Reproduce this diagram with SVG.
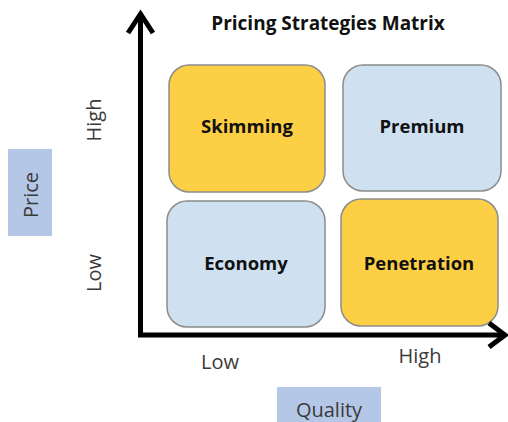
<svg xmlns="http://www.w3.org/2000/svg" width="508" height="422" viewBox="0 0 508 422">
  <style>
    .quad { stroke: #8c8c8c; stroke-width: 1.5; }
    .yellow { fill: #fdcf45; }
    .blue { fill: #cfe0f1; }
    .qlabel { font-family: "Open Sans", "Liberation Sans", sans-serif; font-weight: bold; font-size: 18.5px; fill: #111111; text-anchor: middle; }
    .axislabel { font-family: "Open Sans", "Liberation Sans", sans-serif; font-size: 20px; fill: #3a3a3a; text-anchor: middle; }
    .title { font-family: "Open Sans", "Liberation Sans", sans-serif; font-weight: bold; font-size: 19px; fill: #111111; text-anchor: middle; }
    .tag { fill: #b4c7e7; }
    .axis { stroke: #000000; stroke-width: 5; fill: none; }
  </style>

  <rect width="508" height="422" fill="#ffffff"/>

  <text class="title" x="328" y="30">Pricing Strategies Matrix</text>

  <g id="skimming">
    <rect class="quad yellow" x="169" y="65" width="156" height="127" rx="20"/>
    <text class="qlabel" x="247" y="133">Skimming</text>
  </g>
  <g id="premium">
    <rect class="quad blue" x="343" y="65" width="158" height="126" rx="20"/>
    <text class="qlabel" x="422" y="133">Premium</text>
  </g>
  <g id="economy">
    <rect class="quad blue" x="167" y="201" width="158" height="126" rx="20"/>
    <text class="qlabel" x="246" y="270">Economy</text>
  </g>
  <g id="penetration">
    <rect class="quad yellow" x="341" y="199" width="157" height="127" rx="20"/>
    <text class="qlabel" x="419" y="270">Penetration</text>
  </g>

  <g id="axes">
    <polyline class="axis" points="140.5,14 140.5,335 505,335"/>
    <polyline class="axis" points="128,33 140.5,14 153,33"/>
    <polyline class="axis" points="489,323 505,335 489,347"/>
  </g>

  <g id="price-axis-labels">
    <text class="axislabel" transform="translate(101,120) rotate(-90)">High</text>
    <text class="axislabel" transform="translate(101,273) rotate(-90)">Low</text>
  </g>
  <g id="price-tag">
    <rect class="tag" x="8" y="149" width="44" height="87"/>
    <text class="axislabel" transform="translate(38,195) rotate(-90)">Price</text>
  </g>

  <g id="quality-axis-labels">
    <text class="axislabel" x="220" y="369">Low</text>
    <text class="axislabel" x="420" y="363">High</text>
  </g>
  <g id="quality-tag">
    <rect class="tag" x="277" y="387" width="104" height="40"/>
    <text class="axislabel" x="329" y="417">Quality</text>
  </g>
</svg>
